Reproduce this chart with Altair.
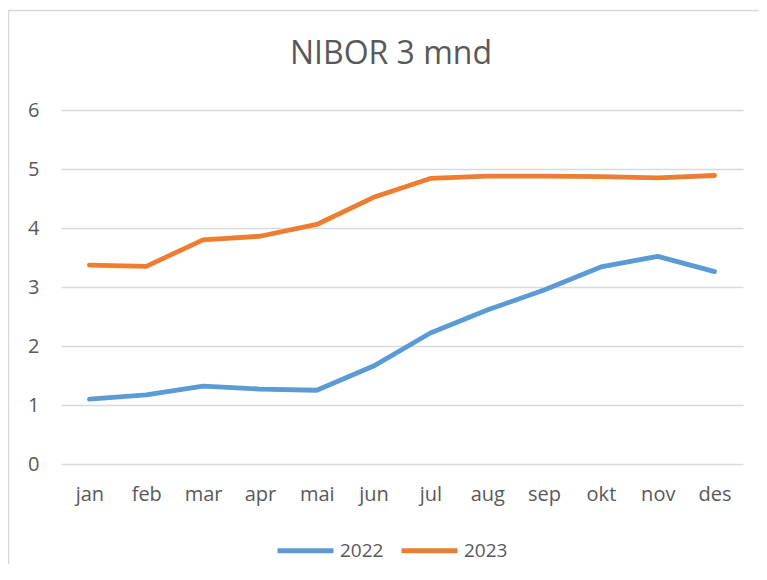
import altair as alt
import pandas as pd

months = ["jan", "feb", "mar", "apr", "mai", "jun", "jul", "aug", "sep", "okt", "nov", "des"]
nibor_2022 = [1.10, 1.17, 1.32, 1.27, 1.25, 1.66, 2.22, 2.61, 2.95, 3.34, 3.52, 3.26]
nibor_2023 = [3.37, 3.35, 3.80, 3.86, 4.06, 4.52, 4.84, 4.88, 4.88, 4.87, 4.85, 4.89]
series = ["2022", "2023"]
colors = ["#5B9BD5", "#ED7D31"]
y_ticks = [0, 1, 2, 3, 4, 5, 6]

rows = []
for m, v in zip(months, nibor_2022):
    rows.append({"mnd": m, "verdi": v, "år": "2022"})
for m, v in zip(months, nibor_2023):
    rows.append({"mnd": m, "verdi": v, "år": "2023"})
df = pd.DataFrame(rows)

FONT = "Open Sans"
TXT = "#595959"
GRID = "#D9D9D9"

lines = alt.Chart(df).mark_line(strokeWidth=4.8, strokeCap="round", strokeJoin="round").encode(
    x=alt.X("mnd:N", sort=months, title=None,
            scale=alt.Scale(type="point", padding=0.5),
            axis=alt.Axis(domain=False, ticks=False, grid=False, labelAngle=0,
                          labelFont=FONT, labelFontSize=20, labelColor=TXT, labelPadding=20)),
    y=alt.Y("verdi:Q", title=None,
            scale=alt.Scale(domain=[0, 6], nice=False),
            axis=alt.Axis(values=y_ticks, domain=False, ticks=False, grid=True,
                          gridColor=GRID, gridWidth=1.5,
                          labelFont=FONT, labelFontSize=20, labelColor=TXT, labelPadding=22)),
    color=alt.Color("år:N", scale=alt.Scale(domain=series, range=colors),
                    legend=alt.Legend(title=None, orient="none", direction="horizontal",
                                      legendX=214, legendY=410,
                                      symbolType="stroke", symbolSize=3136, symbolStrokeWidth=4.8,
                                      labelFont=FONT, labelFontSize=19, labelColor=TXT,
                                      labelOffset=4, columnPadding=7)),
)

frame = alt.Chart(pd.DataFrame({"a": [0]})).mark_rect(
    fillOpacity=0, stroke=GRID, strokeWidth=1.5, clip=False
).encode(
    x=alt.value(-52.5), x2=alt.value(800),
    y=alt.value(-99.5), y2=alt.value(700),
)

chart = alt.layer(frame, lines).properties(
    width=682,
    height=354,
    padding={"left": 53, "top": 102, "right": 16, "bottom": 100},
    autosize=alt.AutoSizeParams(type="none"),
    title=alt.TitleParams("NIBOR 3 mnd", font=FONT, fontSize=32, fontWeight="normal",
                          color=TXT, anchor="middle", dx=-11, baseline="alphabetic",
                          offset=-86),
).configure_view(stroke=None)

chart.save("out.html", embed_options={"renderer": "svg", "actions": False})
